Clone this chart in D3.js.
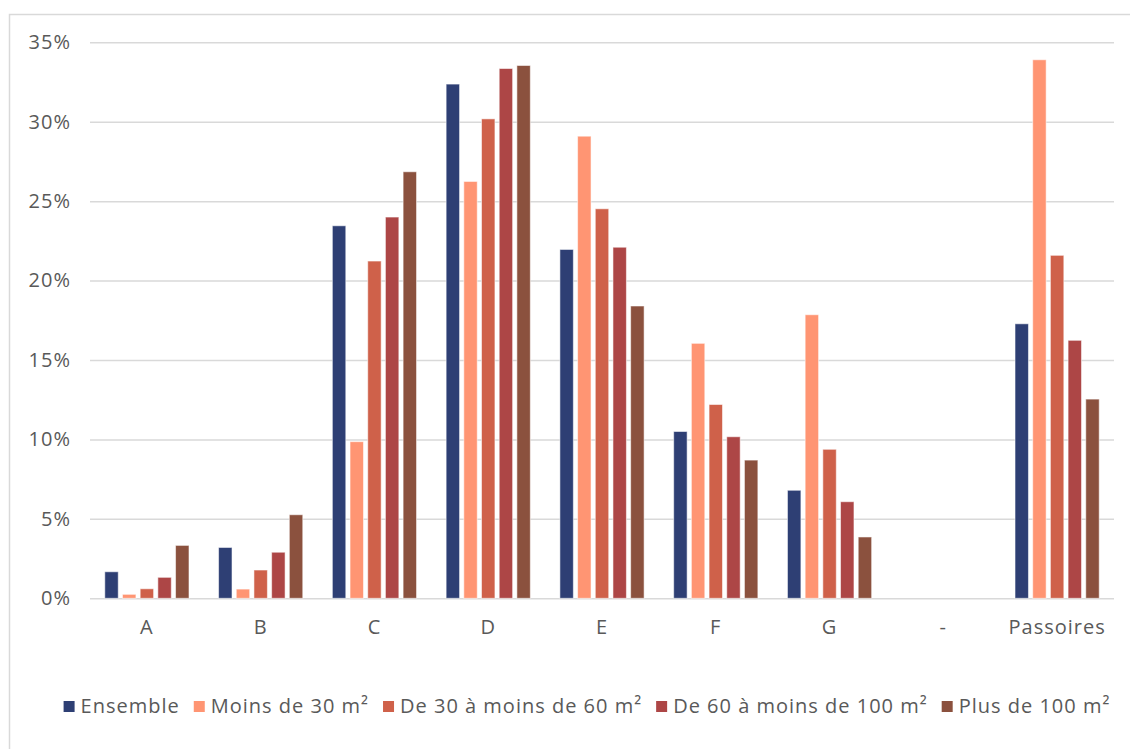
<!DOCTYPE html>
<html lang="fr">
<head>
<meta charset="utf-8">
<script src="https://cdn.jsdelivr.net/npm/d3@7"></script>
<style>
  html, body { margin: 0; padding: 0; background: #ffffff; }
  svg { display: block; font-family: "Open Sans", "Noto Sans", sans-serif; }
  .lbl { font-size: 20px; letter-spacing: 1px; font-family: "Open Sans", sans-serif; }
</style>
</head>
<body>
<svg id="chart" width="1130" height="749"></svg>
<script>
// Classes DPE and surface groups
const categories = ["A", "B", "C", "D", "E", "F", "G", "-", "Passoires"];
const seriesNames = ["Ensemble", "Moins de 30 m²", "De 30 à moins de 60 m²", "De 60 à moins de 100 m²", "Plus de 100 m²"];
const seriesColors = ["#2E3F74", "#FF9573", "#CF614A", "#AD4646", "#8B513E"];

// Share of dwellings per class (%), one array per series
const ensemble   = [1.67, 3.2, 23.45, 32.37, 21.96, 10.5, 6.8, 0, 17.28];
const moins30    = [0.25, 0.58, 9.86, 26.24, 29.09, 16.05, 17.85, 0, 33.9];
const de30a60    = [0.6, 1.78, 21.23, 30.18, 24.52, 12.2, 9.38, 0, 21.59];
const de60a100   = [1.32, 2.9, 24.0, 33.35, 22.1, 10.17, 6.08, 0, 16.24];
const plus100    = [3.33, 5.26, 26.85, 33.54, 18.4, 8.7, 3.86, 0, 12.54];
const yTicks = [0, 5, 10, 15, 20, 25, 30, 35];

const seriesValues = [ensemble, moins30, de30a60, de60a100, plus100];

const svg = d3.select("#chart");
const textColor = "#595959";
const gridColor = "#D9D9D9";

// Outer frame
svg.append("rect")
  .attr("x", 9.5).attr("y", 14.5)
  .attr("width", 1130).attr("height", 745)
  .attr("fill", "none").attr("stroke", gridColor).attr("stroke-width", 1.5);

const plot = { left: 90, right: 1114, top: 42.3, bottom: 598.3 };

const x0 = d3.scaleBand()
  .domain(categories)
  .range([plot.left, plot.right])
  .paddingInner(0.26)
  .paddingOuter(0.13);

const x1 = d3.scaleBand()
  .domain(seriesNames)
  .range([0, x0.bandwidth()])
  .paddingInner(0.24)
  .paddingOuter(0);

const y = d3.scaleLinear().domain([0, 35]).range([plot.bottom, plot.top]);

// Horizontal gridlines
const grid = svg.append("g")
  .attr("transform", `translate(${plot.left},0)`)
  .call(d3.axisLeft(y).tickValues(yTicks).tickSize(-(plot.right - plot.left)).tickFormat(""));
grid.select(".domain").remove();
grid.selectAll("line").attr("stroke", gridColor).attr("stroke-width", 1.5);

// Y tick labels
const yAxis = svg.append("g")
  .attr("transform", `translate(70,0)`)
  .call(d3.axisLeft(y).tickValues(yTicks).tickSize(0).tickPadding(0).tickFormat(d => d + "%"));
yAxis.select(".domain").remove();
yAxis.selectAll("text")
  .attr("class", "lbl")
  .attr("fill", textColor)
  .attr("dx", "1px");

// X category labels
const xAxis = svg.append("g")
  .attr("transform", `translate(0,${plot.bottom})`)
  .call(d3.axisBottom(x0.copy().paddingInner(0).paddingOuter(0)).tickSize(0).tickPadding(22));
xAxis.select(".domain").remove();
xAxis.selectAll("text")
  .attr("class", "lbl")
  .attr("fill", textColor);

// Bars
const rows = categories.map((c, i) => ({
  cat: c,
  vals: seriesNames.map((s, j) => ({ series: s, color: seriesColors[j], value: seriesValues[j][i] }))
}));

const groups = svg.append("g").selectAll("g")
  .data(rows)
  .join("g")
  .attr("transform", d => `translate(${x0(d.cat)},0)`);

groups.selectAll("rect")
  .data(d => d.vals.filter(v => v.value > 0))
  .join("rect")
  .attr("x", d => x1(d.series))
  .attr("width", x1.bandwidth())
  .attr("y", d => y(d.value))
  .attr("height", d => y(0) - y(d.value))
  .attr("fill", d => d.color)
  .attr("stroke", "rgba(255,255,255,0.55)")
  .attr("stroke-width", 1);

// Legend
const legend = svg.append("g").attr("transform", "translate(0,706)");
const items = legend.selectAll("g")
  .data(seriesNames.map((s, j) => ({ name: s, color: seriesColors[j] })))
  .join("g");

items.append("rect")
  .attr("width", 11).attr("height", 11)
  .attr("y", -5)
  .attr("fill", d => d.color);

items.append("text")
  .attr("class", "lbl")
  .attr("x", 17)
  .attr("dy", "0.35em")
  .attr("fill", textColor)
  .text(d => d.name);

const widths = [];
items.each(function() {
  const w = 17 + d3.select(this).select("text").node().getComputedTextLength();
  widths.push(w);
});
const gap = 14;
const total = d3.sum(widths) + gap * (widths.length - 1);
let start = 587 - total / 2;
items.attr("transform", (d, i) => {
  const xPos = start;
  start += widths[i] + gap;
  return `translate(${xPos},0)`;
});
</script>
</body>
</html>
